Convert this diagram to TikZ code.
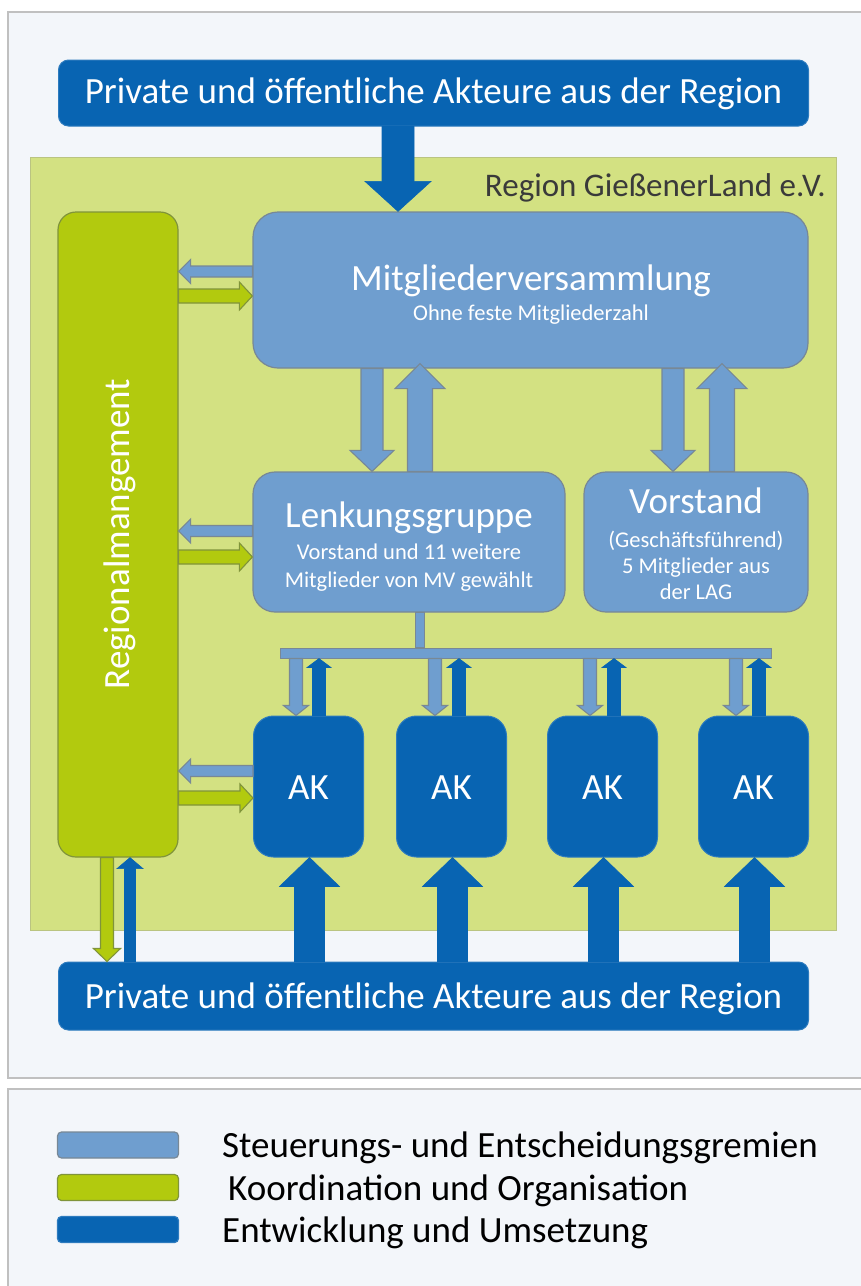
\documentclass[tikz,border=0pt]{standalone}
\usepackage{fontspec}
\setmainfont{Carlito}
\usetikzlibrary{calc}
\definecolor{dblue}{RGB}{8,100,178}
\definecolor{lblue}{RGB}{111,158,207}
\definecolor{gbar}{RGB}{178,202,14}
\definecolor{greg}{RGB}{211,225,130}
\definecolor{bgc}{RGB}{243,246,250}
\definecolor{framec}{RGB}{192,192,192}
\definecolor{outl}{RGB}{120,136,150}
\definecolor{goutl}{RGB}{128,148,58}
\definecolor{lbltext}{RGB}{58,58,58}
\newcommand{\bigfnt}{\fontsize{37}{44}\selectfont}
\newcommand{\smallfnt}{\fontsize{22.5}{27}\selectfont}
\newcommand{\regfnt}{\fontsize{33}{39}\selectfont}
% block arrow: style, start, end, half shaft, half head, head length
\newcommand{\blockarr}[6]{%
  \coordinate (ba-s) at #2;
  \coordinate (ba-e) at #3;
  \coordinate (ba-h) at ($(ba-e)!#6!(ba-s)$);
  \path[#1] ($(ba-s)!#4!90:(ba-e)$) -- ($(ba-h)!#4!90:(ba-e)$) -- ($(ba-h)!#5!90:(ba-e)$) -- (ba-e) -- ($(ba-h)!#5!-90:(ba-e)$) -- ($(ba-h)!#4!-90:(ba-e)$) -- ($(ba-s)!#4!-90:(ba-e)$) -- cycle;}
\begin{document}
\begin{tikzpicture}[x=1pt,y=-1pt,
  darkbox/.style={fill=dblue, draw=dblue!85!white, line width=1pt, inner sep=0pt},
  lightbox/.style={fill=lblue, draw=outl, line width=1.2pt, inner sep=0pt},
  greenbox/.style={fill=gbar, draw=goutl, line width=1.2pt, inner sep=0pt},
  wtxt/.style={text=white, inner sep=0pt, anchor=base},
  larr/.style={fill=lblue, draw=outl, line width=1.1pt, line join=miter},
  garr/.style={fill=gbar, draw=goutl, line width=1.1pt, line join=miter},
  darr/.style={fill=dblue, draw=dblue, line width=0.6pt, line join=miter},
  swatch/.style={minimum width=121pt, minimum height=26pt, rounded corners=4pt, inner sep=0pt, line width=1.2pt},
  legtxt/.style={text=black, inner sep=0pt, anchor=base west, font=\bigfnt}
]
\path[use as bounding box] (0,0) rectangle (861,1286);
\clip (0,0) rectangle (861,1286);
\fill[white] (0,0) rectangle (861,1286);
% frames
\draw[framec, fill=bgc, line width=1.5pt] (8,12) rectangle (890,1078);
\draw[framec, fill=bgc, line width=1.5pt] (8,1089) rectangle (890,1300);
% green region
\node[fill=greg, draw=greg!70!gray, line width=0.8pt, minimum width=806pt, minimum height=773pt, inner sep=0pt] (reg) at (433,543.5) {};
\node[text=lbltext, font=\regfnt, inner sep=0pt, anchor=base east] (reglbl) at (826,196) {Region GießenerLand e.V.};

% boxes
\node[darkbox, rounded corners=10pt, minimum width=750pt, minimum height=66pt] (top) at (433.5,93) {};
\node[wtxt, font=\bigfnt] (toptxt) at (433.5,103) {Private und öffentliche Akteure aus der Region};

\node[lightbox, rounded corners=25pt, minimum width=555pt, minimum height=156pt] (mv) at (530.5,290) {};
\node[wtxt, font=\bigfnt] (mvt1) at (531,290) {Mitgliederversammlung};
\node[wtxt, font=\smallfnt] (mvt2) at (531,320) {Ohne feste Mitgliederzahl};

\node[greenbox, rounded corners=18pt, minimum width=120pt, minimum height=645pt] (rm) at (118,534.5) {};
\node[text=white, font=\bigfnt, rotate=90, inner sep=0pt] (rmt) at (120,534) {Regionalmangement};

\node[lightbox, rounded corners=22pt, minimum width=312pt, minimum height=140pt] (lg) at (409,542) {};
\node[wtxt, font=\bigfnt] (lgt1) at (409,527) {Lenkungsgruppe};
\node[wtxt, font=\smallfnt] (lgt2) at (409,559) {Vorstand und 11 weitere};
\node[wtxt, font=\smallfnt] (lgt3) at (409,587) {Mitglieder von MV gewählt};

\node[lightbox, rounded corners=22pt, minimum width=224pt, minimum height=140pt] (vs) at (696,542) {};
\node[wtxt, font=\bigfnt] (vst1) at (696,513) {Vorstand};
\node[wtxt, font=\smallfnt] (vst2) at (696,547) {(Geschäftsführend)};
\node[wtxt, font=\smallfnt] (vst3) at (696,573) {5 Mitglieder aus};
\node[wtxt, font=\smallfnt] (vst4) at (696,599) {der LAG};

\foreach \i/\cx in {1/308.5, 2/451.5, 3/602.5, 4/753.5}{
  \node[darkbox, rounded corners=20pt, minimum width=110pt, minimum height=141pt] (ak\i) at (\cx,786.5) {};
  \node[wtxt, font=\bigfnt] (akt\i) at (\cx,799) {AK};
}

\node[darkbox, rounded corners=10pt, minimum width=750pt, minimum height=68pt] (bot) at (433.5,996) {};
\node[wtxt, font=\bigfnt] (bott) at (433.5,1008) {Private und öffentliche Akteure aus der Region};

% bus
\node[lightbox, line width=1pt, minimum width=491pt, minimum height=10pt] (bus) at (525.5,653) {};
\path[fill=lblue, draw=outl, line width=1pt] ($(lg.south)+(6,0)$) rectangle ($(bus.north -| lg.south)+(15,0)$);

% top arrow
\blockarr{darr}{(top.south -| 398,0)}{(mv.north -| 398,0)}{16pt}{33pt}{30pt}

% MV <-> LG, MV <-> Vorstand
\blockarr{larr}{(mv.south -| 372,0)}{(lg.north -| 372,0)}{11pt}{22pt}{21pt}
\blockarr{larr}{(lg.north -| 420,0)}{($(mv.south -| 420,0)+(0,-5)$)}{12.5pt}{25pt}{25pt}
\blockarr{larr}{(mv.south -| 673,0)}{(vs.north -| 673,0)}{11pt}{22pt}{21pt}
\blockarr{larr}{(vs.north -| 722,0)}{($(mv.south -| 722,0)+(0,-5)$)}{12.5pt}{25pt}{25pt}

% left arrows RM <-> boxes
\foreach \b/\yb/\yg in {mv/271.5/296, lg/531/557, ak1/771/798}{
  \blockarr{larr}{(\b.west |- 0,\yb)}{(rm.east |- 0,\yb)}{5.5pt}{12pt}{12pt}
  \blockarr{garr}{(rm.east |- 0,\yg)}{(\b.west |- 0,\yg)}{7pt}{14pt}{13pt}
}

% bus <-> AK
\foreach \i/\xd/\xu in {1/296/319, 2/435/459, 3/590/614, 4/736/759}{
  \blockarr{larr}{(bus.south -| \xd,0)}{(ak\i.north -| \xd,0)}{6.5pt}{12.5pt}{10pt}
  \blockarr{darr}{(ak\i.north -| \xu,0)}{(bus.south -| \xu,0)}{6.5pt}{12pt}{9pt}
}

% bottom arrows to AK
\foreach \i in {1,2,3,4}{
  \blockarr{darr}{($(bot.north -| ak\i.south)+(1,0)$)}{($(ak\i.south)+(1,0)$)}{15pt}{30pt}{29pt}
}

% RM <-> bottom
\blockarr{garr}{(rm.south -| 107,0)}{(bot.north -| 107,0)}{6.5pt}{13.5pt}{13pt}
\blockarr{darr}{(bot.north -| 130,0)}{(rm.south -| 130,0)}{5.5pt}{13pt}{11pt}

% legend
\node[swatch, fill=lblue, draw=outl] (sw1) at (118,1145) {};
\node[swatch, fill=gbar, draw=goutl] (sw2) at (118,1187.5) {};
\node[swatch, fill=dblue, draw=dblue!85!white] (sw3) at (118,1229.5) {};
\node[legtxt] (lt1) at (222,1157) {Steuerungs- und Entscheidungsgremien};
\node[legtxt] (lt2) at (228,1200) {Koordination und Organisation};
\node[legtxt] (lt3) at (222,1242) {Entwicklung und Umsetzung};
\end{tikzpicture}
\end{document}
